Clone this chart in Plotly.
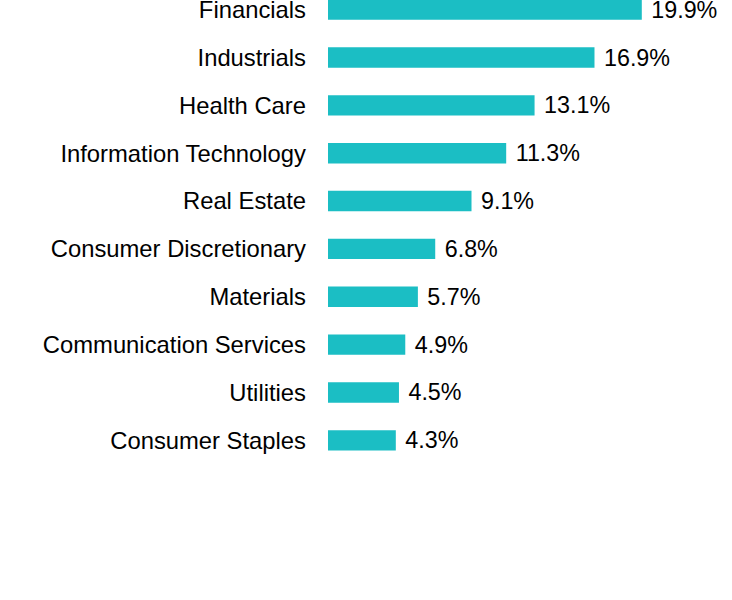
import plotly.graph_objects as go

sectors = ["Financials", "Industrials", "Health Care", "Information Technology",
           "Real Estate", "Consumer Discretionary", "Materials",
           "Communication Services", "Utilities", "Consumer Staples"]
weights = [19.9, 16.9, 13.1, 11.3, 9.1, 6.8, 5.7, 4.9, 4.5, 4.3]

FONT = "Liberation Sans, Arial, sans-serif"

fig = go.Figure(go.Bar(
    x=weights, y=sectors, orientation="h",
    marker=dict(color="#1bbec4", line=dict(width=0)),
    texttemplate=" %{x:.1f}%", textposition="outside", cliponaxis=False,
    constraintext="none",
    textfont=dict(family=FONT, size=23.3, color="#000000"),
    hoverinfo="skip",
))

fig.update_layout(
    width=732, height=600,
    margin=dict(l=328, r=0, t=0, b=100),
    plot_bgcolor="white", paper_bgcolor="white",
    bargap=0.574, showlegend=False,
    font=dict(family=FONT, size=23.8, color="#000000"),
)
fig.update_xaxes(range=[0, 25.62], visible=False, showgrid=False, zeroline=False,
                 automargin=False)
fig.update_yaxes(categoryorder="array", categoryarray=sectors,
                 range=[10.247, -0.2017], showgrid=False, zeroline=False,
                 ticks="", ticklabelstandoff=21, showline=False, automargin=False,
                 tickfont=dict(family=FONT, size=23.8, color="#000000"))

fig.write_html("out.html", config={"displayModeBar": False},
               post_script="document.body.style.margin='0';")
